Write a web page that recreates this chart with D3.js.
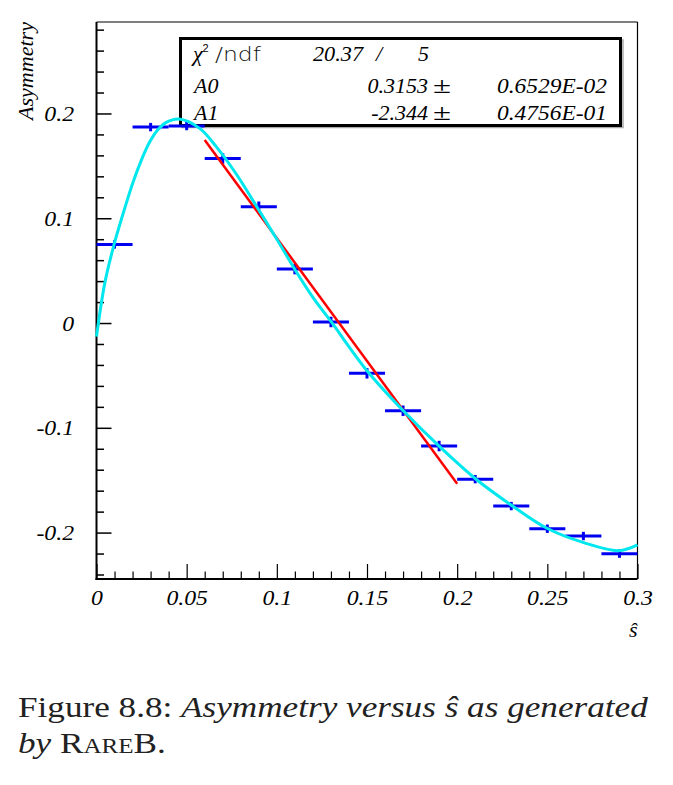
<!DOCTYPE html>
<html>
<head>
<meta charset="utf-8">
<script src="https://cdn.jsdelivr.net/npm/d3@7"></script>
<style>
  html, body { margin: 0; padding: 0; background: #fff; }
  svg { display: block; }
</style>
</head>
<body>
<div id="chart"></div>
<script>
// ---------------- data ----------------
const binCenters = [0.01, 0.03, 0.05, 0.07, 0.09, 0.11, 0.13, 0.15, 0.17, 0.19, 0.21, 0.23, 0.25, 0.27, 0.29];
const binHalfWidth = 0.01;
const asymValues = [0.075, 0.187, 0.188, 0.157, 0.111, 0.0515, 0.001, -0.048, -0.0837, -0.1174, -0.149, -0.1747, -0.1963, -0.2033, -0.2201];
const asymErrors = [0.004, 0.004, 0.004, 0.005, 0.005, 0.005, 0.005, 0.005, 0.005, 0.005, 0.004, 0.004, 0.004, 0.004, 0.004];

// linear fit (red), endpoints
const linFitX = [0.06, 0.2];
const linFitY = [0.1747, -0.1535];

// smooth fit (cyan)
const curveX = [0, 0.0047, 0.0099, 0.0145, 0.0204, 0.025, 0.0294, 0.034, 0.0387, 0.0457, 0.0572, 0.0665, 0.0775, 0.0887, 0.1017, 0.11, 0.12, 0.13, 0.15, 0.17, 0.19, 0.211, 0.2313, 0.2498, 0.2702, 0.2896, 0.3];
const curveY = [-0.013, 0.039, 0.076, 0.103, 0.135, 0.156, 0.1725, 0.1845, 0.1915, 0.1947, 0.1858, 0.1681, 0.1422, 0.1115, 0.0752, 0.0511, 0.0245, 0.0015, -0.0455, -0.0835, -0.1175, -0.1498, -0.1753, -0.1959, -0.2096, -0.2173, -0.2118];

const xTicksMajor = [0, 0.05, 0.1, 0.15, 0.2, 0.25, 0.3];
const xTickLabels = ["0", "0.05", "0.1", "0.15", "0.2", "0.25", "0.3"];
const xTicksMinor = [0.01, 0.02, 0.03, 0.04, 0.06, 0.07, 0.08, 0.09, 0.11, 0.12, 0.13, 0.14, 0.16, 0.17, 0.18, 0.19, 0.21, 0.22, 0.23, 0.24, 0.26, 0.27, 0.28, 0.29];
const yTicksMajor = [-0.2, -0.1, 0, 0.1, 0.2];
const yTickLabels = ["-0.2", "-0.1", "0", "0.1", "0.2"];
const yTicksMinor = [-0.24, -0.22, -0.18, -0.16, -0.14, -0.12, -0.08, -0.06, -0.04, -0.02, 0.02, 0.04, 0.06, 0.08, 0.12, 0.14, 0.16, 0.18, 0.22, 0.24, 0.26, 0.28];

const statRows = [
  { name: "A0", value: "0.3153", err: "0.6529E-02" },
  { name: "A1", value: "-2.344", err: "0.4756E-01" }
];
const chi2Value = "20.37";
const ndfValue = "5";

const xLabel = "ŝ";
const yLabel = "Asymmetry";

// ---------------- layout ----------------
const W = 673, H = 785;
const L = 96.5, R = 637.5, T = 22, B = 579;
const serif = "'Liberation Serif', 'Times New Roman', serif";
const SX = 1.08; // horizontal stretch of the axis lettering

const svg = d3.select("#chart").append("svg")
  .attr("width", W).attr("height", H);

const x = d3.scaleLinear().domain([0, 0.3]).range([L, R]);
const y = d3.scaleLinear().domain([-0.2443, 0.2873]).range([B, T]);

// ---------------- stats box ----------------
const box = svg.append("g");
box.append("rect")
  .attr("x", 182).attr("y", 40).attr("width", 441).attr("height", 87.5)
  .attr("fill", "none").attr("stroke", "#aaa").attr("stroke-width", 1.5);
box.append("rect")
  .attr("x", 180.5).attr("y", 38.5).attr("width", 440).attr("height", 87)
  .attr("fill", "#fff").attr("stroke", "#000").attr("stroke-width", 3);

const statStyle = sel => sel.attr("font-family", serif).attr("font-style", "italic")
  .attr("font-size", 22).attr("fill", "#000");

box.append("text").call(statStyle).attr("x", 193).attr("y", 60.5).text("χ");
box.append("text").attr("x", 202.5).attr("y", 51.5)
  .attr("font-family", "'Liberation Sans', Arial, sans-serif").attr("font-size", 11).text("2");
box.append("text").attr("x", 215).attr("y", 60.5)
  .attr("font-family", "'DejaVu Sans', sans-serif").attr("font-weight", 300)
  .attr("font-size", 19).attr("fill", "#111")
  .attr("textLength", 46).attr("lengthAdjust", "spacingAndGlyphs").text("/ndf");

box.append("text").call(statStyle).attr("x", 313).attr("y", 60.5)
  .attr("textLength", 50).attr("lengthAdjust", "spacingAndGlyphs").text(chi2Value);
box.append("text").call(statStyle).attr("x", 376).attr("y", 60.5).text("/");
box.append("text").call(statStyle).attr("x", 418).attr("y", 60.5).text(ndfValue);

const rowBase = [93, 119.5];
statRows.forEach((r, i) => {
  box.append("text").call(statStyle).attr("x", 194).attr("y", rowBase[i]).text(r.name);
  box.append("text").call(statStyle).attr("x", 428).attr("y", rowBase[i])
    .attr("text-anchor", "end").text(r.value);
  box.append("text").call(statStyle).attr("x", 433).attr("y", rowBase[i])
    .attr("font-style", "normal").attr("font-size", 24)
    .attr("textLength", 18).attr("lengthAdjust", "spacingAndGlyphs").text("±");
  box.append("text").call(statStyle).attr("x", 497).attr("y", rowBase[i])
    .attr("textLength", 110).attr("lengthAdjust", "spacingAndGlyphs").text(r.err);
});

// ---------------- axes ----------------
const fontAxis = sel => sel.attr("font-family", serif).attr("font-style", "italic")
  .attr("font-size", 22).attr("fill", "#000");

// frame top/right
svg.append("line").attr("x1", L).attr("x2", R).attr("y1", T).attr("y2", T)
  .attr("stroke", "#000").attr("stroke-width", 1.2);
svg.append("line").attr("x1", R).attr("x2", R).attr("y1", T).attr("y2", B)
  .attr("stroke", "#000").attr("stroke-width", 1.2);

// y axis major
const yAxis = svg.append("g").attr("transform", `translate(${L},0)`)
  .call(d3.axisLeft(y).tickValues(yTicksMajor).tickSize(-15).tickPadding(22)
    .tickFormat((d, i) => yTickLabels[i]));
yAxis.select(".domain").remove();
yAxis.selectAll(".tick line").attr("stroke", "#000").attr("stroke-width", 1.5);
yAxis.selectAll(".tick text").call(fontAxis)
  .attr("x", -22.5 / SX).attr("dy", "0.32em").attr("transform", `scale(${SX},1)`);

// y minor
const yMinor = svg.append("g").attr("transform", `translate(${L},0)`)
  .call(d3.axisLeft(y).tickValues(yTicksMinor).tickSize(-7.5).tickFormat(""));
yMinor.select(".domain").remove();
yMinor.selectAll(".tick line").attr("stroke", "#000").attr("stroke-width", 1.5);

// x axis major
const xAxis = svg.append("g").attr("transform", `translate(0,${B})`)
  .call(d3.axisBottom(x).tickValues(xTicksMajor).tickSize(-15).tickPadding(12)
    .tickFormat((d, i) => xTickLabels[i]));
xAxis.select(".domain").remove();
xAxis.selectAll(".tick line").attr("stroke", "#000").attr("stroke-width", 1.2);
xAxis.selectAll(".tick text").call(fontAxis).attr("y", 26.5).attr("dy", 0)
  .attr("transform", `scale(${SX},1)`);

const xMinor = svg.append("g").attr("transform", `translate(0,${B})`)
  .call(d3.axisBottom(x).tickValues(xTicksMinor).tickSize(-7.5).tickFormat(""));
xMinor.select(".domain").remove();
xMinor.selectAll(".tick line").attr("stroke", "#000").attr("stroke-width", 1.2);

// axis lines (left & bottom, thicker)
svg.append("line").attr("x1", L).attr("x2", L).attr("y1", T).attr("y2", B + 1)
  .attr("stroke", "#000").attr("stroke-width", 2);
svg.append("line").attr("x1", L - 1).attr("x2", R).attr("y1", B).attr("y2", B)
  .attr("stroke", "#000").attr("stroke-width", 2);

// axis titles
svg.append("text").call(fontAxis).attr("text-anchor", "end")
  .attr("x", R).attr("y", 637).text(xLabel);
svg.append("text").call(fontAxis).attr("font-size", 22).attr("text-anchor", "end")
  .attr("transform", `translate(33,${T}) rotate(-90)`)
  .attr("textLength", 98).attr("lengthAdjust", "spacingAndGlyphs").text(yLabel);

// ---------------- data points ----------------
const pts = svg.append("g").attr("stroke", "#0000f0").attr("stroke-width", 3);
binCenters.forEach((c, i) => {
  pts.append("line")
    .attr("x1", x(c - binHalfWidth)).attr("x2", x(c + binHalfWidth))
    .attr("y1", y(asymValues[i])).attr("y2", y(asymValues[i]));
  pts.append("line")
    .attr("x1", x(c)).attr("x2", x(c))
    .attr("y1", y(asymValues[i] - asymErrors[i])).attr("y2", y(asymValues[i] + asymErrors[i]));
});

// ---------------- fits ----------------
svg.append("path")
  .datum(linFitX.map((d, i) => [d, linFitY[i]]))
  .attr("d", d3.line().x(d => x(d[0])).y(d => y(d[1])))
  .attr("fill", "none").attr("stroke", "#ff0000").attr("stroke-width", 2.5);

svg.append("path")
  .datum(curveX.map((d, i) => [d, curveY[i]]))
  .attr("d", d3.line().x(d => x(d[0])).y(d => y(d[1])).curve(d3.curveCatmullRom.alpha(0.5)))
  .attr("fill", "none").attr("stroke", "#00e8ee").attr("stroke-width", 3);

// ---------------- caption ----------------
const cap = svg.append("g").attr("font-family", serif).attr("font-size", 29).attr("fill", "#222");
const line1 = cap.append("text").attr("x", 0).attr("y", 0);
line1.append("tspan").text("Figure 8.8: ");
line1.append("tspan").attr("font-style", "italic").text("Asymmetry versus ŝ as generated");
const line2 = cap.append("text").attr("x", 0).attr("y", 0);
line2.append("tspan").attr("font-style", "italic").text("by ");
line2.append("tspan").attr("font-variant", "small-caps").text("RareB");
line2.append("tspan").text(".");

const w1 = line1.node().getComputedTextLength();
const sx = 630 / w1;
line1.attr("transform", `translate(18,717) scale(${sx},1)`);
line2.attr("transform", `translate(18,753) scale(${sx},1)`);
</script>
</body>
</html>
